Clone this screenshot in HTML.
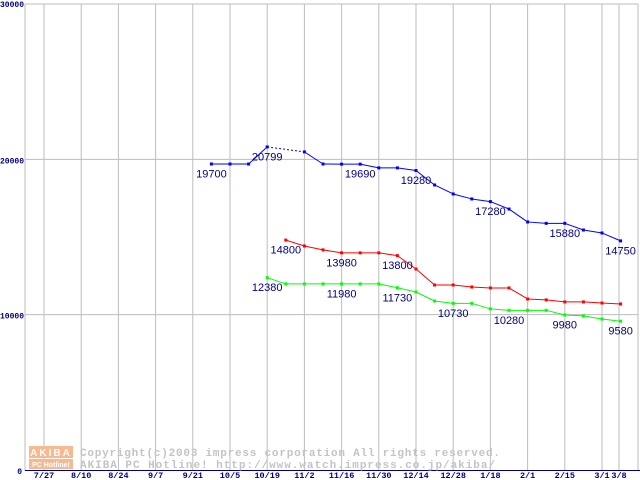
<!DOCTYPE html>
<html><head><meta charset="utf-8">
<style>
html,body{margin:0;padding:0;background:#fff;}
svg{display:block;font-family:"Liberation Sans",sans-serif;}
</style></head>
<body>
<svg id="chart" width="640" height="480" viewBox="0 0 640 480" xmlns="http://www.w3.org/2000/svg">
<g id="grid"></g>
<g id="axes"></g>
<g id="watermark">
  <rect x="29" y="446" width="44" height="12" fill="#f7b98f"/>
  <text x="51" y="456" font-size="10" font-weight="bold" fill="#fff" text-anchor="middle" letter-spacing="2">AKIBA</text>
  <rect x="29" y="459" width="44" height="10" fill="#f7b98f"/>
  <text x="51" y="467" font-size="7" font-weight="bold" fill="#fff" text-anchor="middle">PC Hotline!</text>
  <text x="80" y="456" font-size="11" fill="#c4c4c4" font-family="Liberation Mono,monospace" font-weight="bold" textLength="420" lengthAdjust="spacing">Copyright(c)2003 impress corporation All rights reserved.</text>
  <text x="80" y="468" font-size="11" fill="#c4c4c4" font-family="Liberation Mono,monospace" font-weight="bold" textLength="415" lengthAdjust="spacing">AKIBA PC Hotline!  http://www.watch.impress.co.jp/akiba/</text>
</g>
<g id="series"></g>
</svg>
<script>
const xLabels = ["7/27","8/10","8/24","9/7","9/21","10/5","10/19","11/2","11/16","11/30","12/14","12/28","1/18","2/1","2/15","3/1","3/8"];
const yTicks = [0,10000,20000,30000];
const blueValues = [19700,19700,19700,20799,null,20480,19700,19690,19690,19450,19450,19280,18350,17770,17450,17280,16800,15970,15880,15880,15450,15260,14750];
const redValues = [null,null,null,null,14800,14420,14170,13980,13980,13980,13800,12940,11910,11910,11780,11720,11720,11010,10950,10820,10820,10750,10690];
const greenValues = [null,null,null,12380,11980,11980,11980,11980,11980,11980,11730,11460,10880,10730,10730,10370,10280,10280,10280,9980,9920,9720,9580];
const blueLabels = [0,3,8,11,15,19,22];
const redLabels = [4,7,10];
const greenLabels = [3,7,10,13,16,19,22];

const NS = "http://www.w3.org/2000/svg";
function yS(v){ return 470 - v*0.015533; }
function xS(i){ return 211.4 + 18.6*i; }
function gridX(i){ return i < 16 ? 44 + 37.2*i : 619; }
function mk(tag, attrs, parent){ const e=document.createElementNS(NS,tag); for(const k in attrs) e.setAttribute(k,attrs[k]); parent.appendChild(e); return e; }

const grid=document.getElementById('grid'), axes=document.getElementById('axes'), ser=document.getElementById('series');
yTicks.forEach(t=>{
  if(t>0){ const l=mk('line',{x1:25,x2:638,y1:yS(t),y2:yS(t),stroke:'#bdbdbd','stroke-width':1},grid);
      }
  const tx=mk('text',{x:t===0?22:0,y:yS(t)+(t===30000?3:4),'font-size':8,'font-weight':'bold',fill:'#000080','text-anchor':t===0?'end':'start','font-family':'Liberation Mono,monospace'},axes);
  tx.textContent=String(t);
   
});
xLabels.forEach((lab,i)=>{
  const x=gridX(i);
  const l=mk('line',{x1:x,x2:x,y1:4,y2:470,stroke:'#bdbdbd','stroke-width':1},grid);
   
  const t=mk('text',{x:x,y:478,'font-size':8.5,'font-weight':'bold',fill:'#000080','text-anchor':'middle','font-family':'Liberation Mono,monospace'},axes);
  t.textContent=lab;
   
});
let l=mk('line',{x1:638,x2:638,y1:4,y2:470,stroke:'#bdbdbd'},grid);
 
l=mk('line',{x1:25,x2:25,y1:4,y2:471,stroke:'#bdbdbd'},axes);
 
l=mk('line',{x1:25,x2:640,y1:470.5,y2:470.5,stroke:'#000080'},axes);
 

function drawSeries(vals,color,name,labels){
  const g=mk('g',{},ser);
   
  let prev=-1;
  for(let i=0;i<vals.length;i++){
    if(vals[i]==null) continue;
    if(prev>=0){
      const dashed = (i-prev)>1;
      const seg=mk('line',{x1:xS(prev),y1:yS(vals[prev]),x2:xS(i),y2:yS(vals[i]),stroke:color,'stroke-width':1},g);
      if(dashed) seg.setAttribute('stroke-dasharray','2,2');
       
    }
    prev=i;
  }
  vals.forEach((v,i)=>{
    if(v==null) return;
    const r=mk('rect',{x:xS(i)-1.5,y:yS(v)-1.5,width:3,height:3,fill:color},g);
     
  });
  labels.forEach(i=>{
    const t=mk('text',{x:xS(i),y:yS(vals[i])+13.5,'font-size':11,fill:'#000080','text-anchor':'middle'},g);
    t.textContent=String(vals[i]);
     
  });
}
drawSeries(greenValues,'#00ff00','green',greenLabels);
drawSeries(redValues,'#ff0000','red',redLabels);
drawSeries(blueValues,'#0000ff','blue',blueLabels);
</script>
</body></html>
